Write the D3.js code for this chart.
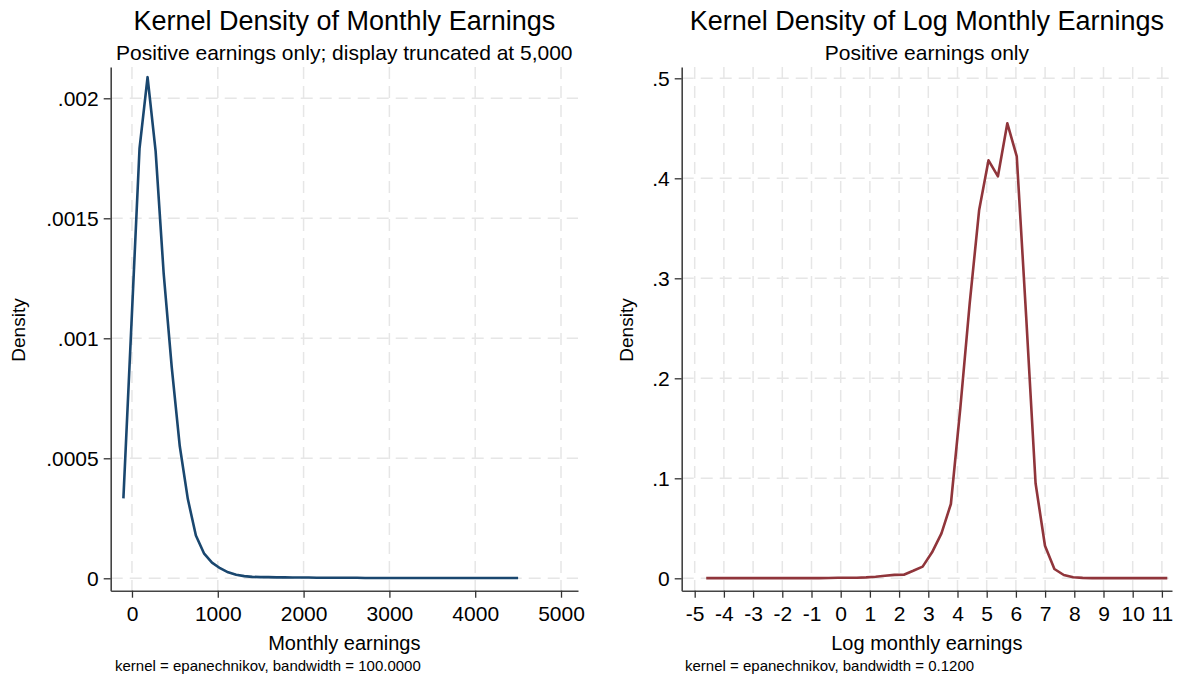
<!DOCTYPE html>
<html><head><meta charset="utf-8">
<script src="https://cdn.jsdelivr.net/npm/d3@7/dist/d3.min.js"></script>
<style>body{margin:0;background:#fff}svg{display:block}text{font-family:"Liberation Sans",Arial,sans-serif;fill:#000}</style>
</head><body><svg id="c" width="1180" height="679"></svg>
<script>
// ---------- data ----------
const earnStart = -100, earnStep = 93.878;
const earnDensity = [0.000333,0.00106,0.00179,0.002088,0.00178,0.00127,0.00088,0.00055,0.00033,0.000178,
 0.000104,0.000065,0.000042,0.000025,0.000015,0.000009,0.000006,0.000005,0.000005,0.000004,
 0.000004,0.000003,0.000003,0.000003,0.000002,0.000002,0.000002,0.000002,0.000002,0.000002,
 0.000001,0.000001,0.000001,0.000001,0.000001,0.000001,0.000001,0.000001,0.000001,0.000001,
 0.000001,0.000001,0.000001,0.000001,0.000001,0.000001,0.000001,0.000001,0.000001,0.000001];
const logStart = -4.605, logStep = 0.32225;
const logDensity = [0.0002,0.0002,0.0002,0.0002,0.0002,0.0002,0.0002,0.0002,0.0002,0.0002,
 0.0002,0.0002,0.0002,0.0003,0.0005,0.0005,0.0006,0.0009,0.0015,0.0025,
 0.0034,0.0036,0.0075,0.0117,0.026,0.045,0.0743,0.17,0.275,0.368,
 0.418,0.402,0.455,0.422,0.262,0.095,0.0326,0.0093,0.0033,0.0011,
 0.0004,0.0002,0.0002,0.0002,0.0002,0.0002,0.0002,0.0002,0.0002,0.0002];
const leftXTicks = [0,1000,2000,3000,4000,5000];
const leftXLabels = ["0","1000","2000","3000","4000","5000"];
const leftYTicks = [0,0.0005,0.001,0.0015,0.002];
const leftYLabels = ["0",".0005",".001",".0015",".002"];
const rightXTicks = [-5,-4,-3,-2,-1,0,1,2,3,4,5,6,7,8,9,10,11];
const rightXLabels = ["-5","-4","-3","-2","-1","0","1","2","3","4","5","6","7","8","9","10","11"];
const rightYTicks = [0,0.1,0.2,0.3,0.4,0.5];
const rightYLabels = ["0",".1",".2",".3",".4",".5"];

const svg = d3.select("#c");

function panel(o){
  const g = svg.append("g");
  const x = d3.scaleLinear().domain(o.xd).range([o.left,o.right]);
  const y = d3.scaleLinear().domain(o.yd).range([o.bottom,o.top]);
  // grid
  g.selectAll(".hg").data(o.yt).join("line")
   .attr("x1",o.left).attr("x2",o.right).attr("y1",d=>y(d)).attr("y2",d=>y(d))
   .attr("stroke","#e6e6e6").attr("stroke-width",1.5).attr("stroke-dasharray","12,7");
  g.selectAll(".vg").data(o.xt).join("line")
   .attr("y1",o.top).attr("y2",o.bottom).attr("x1",d=>x(d)).attr("x2",d=>x(d))
   .attr("stroke","#e6e6e6").attr("stroke-width",1.5).attr("stroke-dasharray","12,7");
  // line
  const pts = o.dens.map((d,i)=>[o.start+i*o.step,d]);
  g.append("path").datum(pts)
   .attr("d",d3.line().x(d=>x(d[0])).y(d=>y(d[1])))
   .attr("fill","none").attr("stroke",o.color).attr("stroke-width",2.6).attr("stroke-linejoin","round");
  // axes
  const ax = g.append("g").attr("transform",`translate(0,${o.bottom})`)
   .call(d3.axisBottom(x).tickValues(o.xt).tickSize(7).tickPadding(5).tickSizeOuter(0)
     .tickFormat((d,i)=>o.xl[i]));
  const ay = g.append("g").attr("transform",`translate(${o.left},0)`)
   .call(d3.axisLeft(y).tickValues(o.yt).tickSize(7).tickPadding(5).tickSizeOuter(0)
     .tickFormat((d,i)=>o.yl[i]));
  [ax,ay].forEach(a=>{
    a.select(".domain").attr("stroke","#444").attr("stroke-width",1.6);
    a.selectAll(".tick line").attr("stroke","#333").attr("stroke-width",1.3);
    a.selectAll("text").style("font-size","21px").style("font-family","Liberation Sans, Arial, sans-serif").attr("fill","#000");
  });
  ax.selectAll("text").attr("dy","0.85em");
  const cx = (o.left+o.right)/2;
  svg.append("text").attr("x",cx).attr("y",30).attr("text-anchor","middle").style("font-size","27px").text(o.title);
  svg.append("text").attr("x",cx).attr("y",60).attr("text-anchor","middle").style("font-size","21px").text(o.sub);
  svg.append("text").attr("x",cx).attr("y",650).attr("text-anchor","middle").style("font-size","20px").text(o.xlab);
  svg.append("text").attr("transform",`translate(${o.ylabX},330) rotate(-90)`).attr("text-anchor","middle").style("font-size","19px").text("Density");
  svg.append("text").attr("x",o.noteX).attr("y",671).style("font-size","15px").text(o.note);
}

panel({xd:[-248,5198], yd:[-0.0000517,0.0021304], left:110.7, right:578, top:67, bottom:590.7,
  xt:leftXTicks, xl:leftXLabels, yt:leftYTicks, yl:leftYLabels, dens:earnDensity, start:earnStart, step:earnStep,
  color:"#1a476f", title:"Kernel Density of Monthly Earnings",
  sub:"Positive earnings only; display truncated at 5,000", xlab:"Monthly earnings",
  ylabX:25, noteX:115, note:"kernel = epanechnikov, bandwidth = 100.0000"});
panel({xd:[-5.445,11.346], yd:[-0.0124,0.5113], left:681.7, right:1172, top:67, bottom:590.7,
  xt:rightXTicks, xl:rightXLabels, yt:rightYTicks, yl:rightYLabels, dens:logDensity, start:logStart, step:logStep,
  color:"#90353b", title:"Kernel Density of Log Monthly Earnings",
  sub:"Positive earnings only", xlab:"Log monthly earnings",
  ylabX:633, noteX:685, note:"kernel = epanechnikov, bandwidth = 0.1200"});
</script></body></html>
